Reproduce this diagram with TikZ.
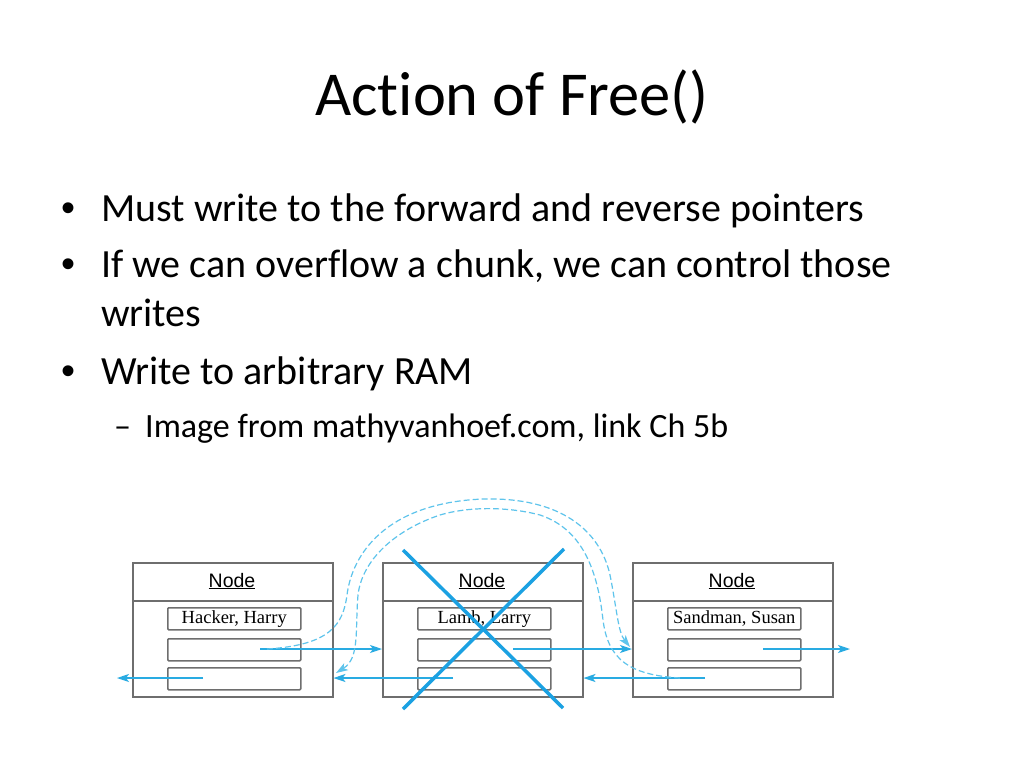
\documentclass[tikz,border=0pt]{standalone}
\usepackage{fontspec}
\setmainfont[Ligatures=NoCommon]{Carlito}
\newfontfamily\nodefont{Liberation Sans}
\newfontfamily\namefont{Liberation Serif}
\usetikzlibrary{arrows.meta}
\definecolor{boxgray}{HTML}{6E6E6E}
\definecolor{ptrblue}{HTML}{29ABE2}
\definecolor{xblue}{HTML}{1BA1E2}
\definecolor{dashblue}{HTML}{5EC4EC}
\begin{document}
\begin{tikzpicture}[x=1pt,y=-1pt,
  chunk/.style={draw=boxgray, line width=1.5pt, minimum width=200pt, minimum height=134pt, anchor=north west, inner sep=0pt},
  field/.style={draw=boxgray, line width=1.5pt, rounded corners=1pt, minimum width=133pt, minimum height=22pt, anchor=north west, inner sep=0pt, font=\namefont\fontsize{18.5}{20}\selectfont},
  hdr/.style={anchor=base, inner sep=0pt, font=\nodefont\fontsize{19.5}{21}\selectfont},
  ptr/.style={draw=ptrblue, line width=1.3pt, -{Stealth[length=12pt,width=8pt,inset=3pt]}},
  dptr/.style={draw=dashblue, line width=1.2pt, dash pattern=on 6pt off 3pt, -{Stealth[length=12pt,width=8pt,inset=3pt]}},
  cross/.style={draw=xblue, line width=3.5pt},
  title/.style={anchor=base, inner sep=0pt, font=\fontsize{62.5}{70}\selectfont},
  bul/.style={anchor=base west, inner sep=0pt, font=\nodefont\fontsize{40}{44}\selectfont},
  body/.style={anchor=base west, inner sep=0pt, font=\fontsize{40}{44}\selectfont},
  sub/.style={anchor=base west, inner sep=0pt, font=\fontsize{34}{38}\selectfont}]
\useasboundingbox[fill=white] (0,0) rectangle (1024,768);

% title and text
\node[title] (ttl) at (512,115) {Action of Free()};
\node[bul] (b1) at (61,221) {•};
\node[body] (t1) at (101,221) {Must write to the forward and reverse pointers};
\node[bul] (b2) at (61,277) {•};
\node[body] (t2) at (101,277) {If we can overflow a chunk, we can control those};
\node[body] (t2b) at (101,326) {writes};
\node[bul] (b3) at (61,384) {•};
\node[body] (t3) at (101,384) {Write to arbitrary RAM};
\node[sub] (d4) at (114,437) {–};
\node[sub] (t4) at (145,437) {Image from mathyvanhoef.com, link Ch 5b};

% chunks
\foreach \i/\nm in {0/{Hacker, Harry},1/{Lamb, Larry},2/{Sandman, Susan}}{
  \pgfmathsetmacro\lx{132+250*\i}
  \node[chunk] (c\i) at (\lx,562) {};
  \draw[draw=boxgray, line width=1.5pt] (c\i.west |- 0,601) -- (c\i.east |- 0,601);
  \node[hdr] (h\i) at (\lx+100,587) {\underline{Node}};
  \node[field] (f\i a) at (\lx+35,607) {\nm};
  \node[field] (f\i b) at (\lx+35,638) {};
  \node[field] (f\i c) at (\lx+35,667) {};
}

% solid pointers
\coordinate (s0n) at (260,649);
\coordinate (s0p) at (203,678);
\coordinate (e0p) at (117,678);
\coordinate (s1n) at (513,649);
\coordinate (s1p) at (453,678);
\coordinate (s2n) at (763,649);
\coordinate (e2n) at (850,649);
\coordinate (s2p) at (705,678);
\draw[ptr] (s0n) -- (c1.west |- s0n);
\draw[ptr] (s0p) -- (e0p);
\draw[ptr] (s1n) -- (c2.west |- s1n);
\draw[ptr] (s1p) -- (c0.east |- s1p);
\draw[ptr] (s2n) -- (e2n);
\draw[ptr] (s2p) -- (c1.east |- s2p);

% dashed re-routed pointers
\coordinate (d0) at (267,649);
\coordinate (d0e) at (630,647);
\coordinate (d2) at (680,678);
\coordinate (d2e) at (336,673);
\draw[dptr] (d0) .. controls (330,645) and (343,625) .. (347,595)
  .. controls (352,555) and (385,503) .. (483,499)
  .. controls (560,497) and (600,530) .. (610,575)
  .. controls (617,610) and (618,632) .. (d0e);
\draw[dptr] (d2) .. controls (630,675) and (608,660) .. (603,620)
  .. controls (598,575) and (585,530) .. (540,515)
  .. controls (510,507) and (470,506) .. (440,515)
  .. controls (395,530) and (362,560) .. (358,595)
  .. controls (355,630) and (360,658) .. (d2e);

% cross over the freed chunk
\coordinate (x1) at (403,550);
\coordinate (x2) at (563,708);
\coordinate (x3) at (564,549);
\coordinate (x4) at (403,709);
\draw[cross] (x1) -- (x2);
\draw[cross] (x3) -- (x4);
\end{tikzpicture}
\end{document}
